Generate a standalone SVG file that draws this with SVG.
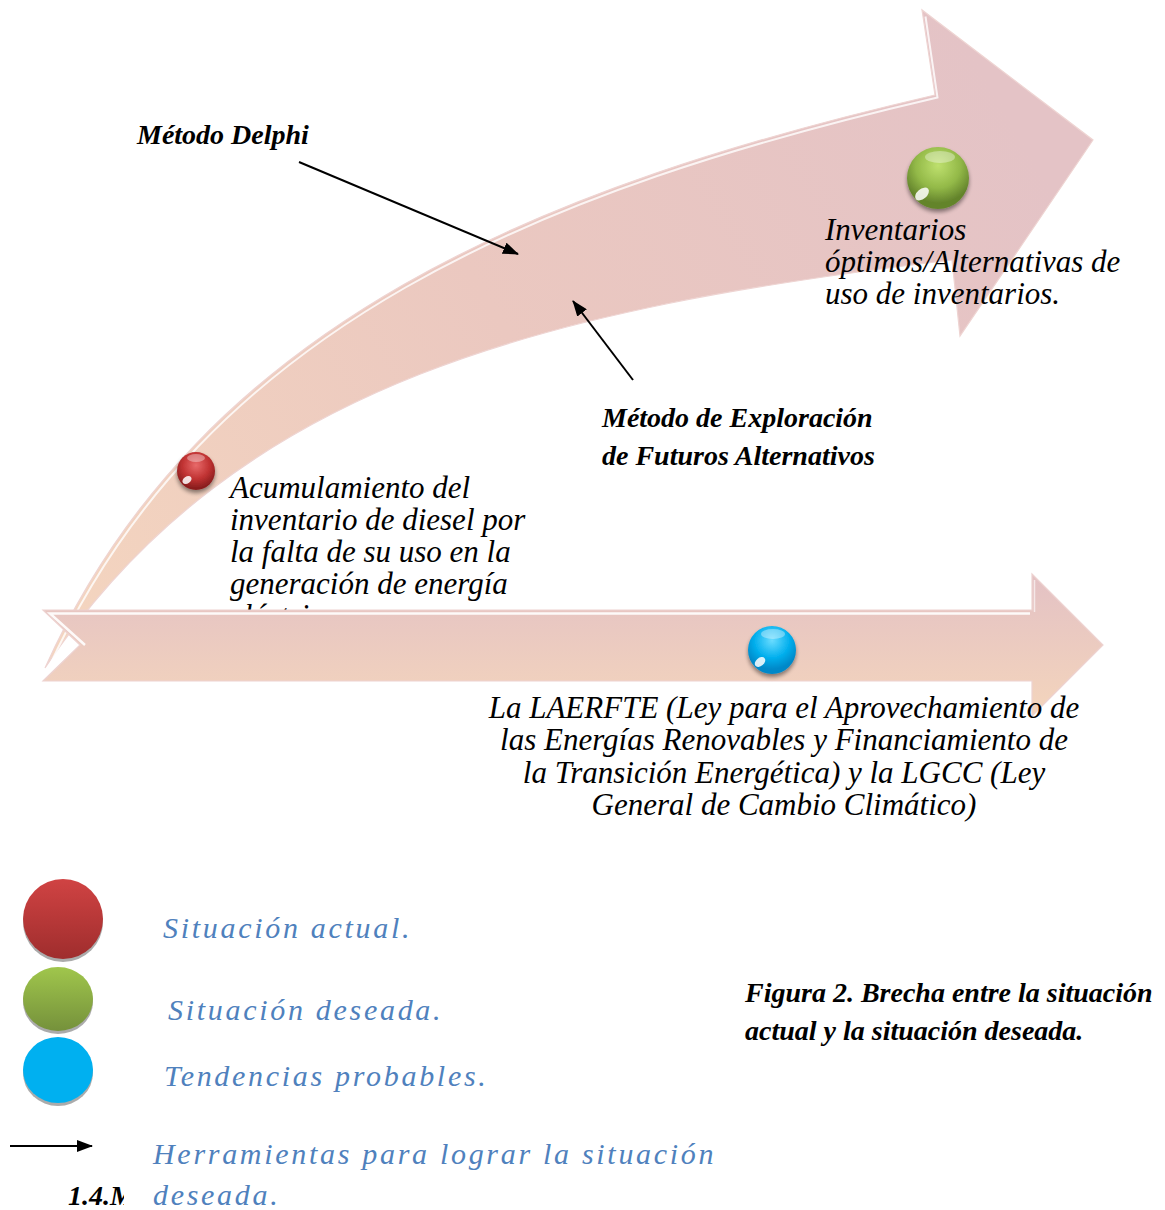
<svg xmlns="http://www.w3.org/2000/svg" width="1165" height="1210" viewBox="0 0 1165 1210">
<style>
.tx{font-family:"Liberation Serif","Times New Roman",serif;font-style:italic;fill:#000;font-size:31px}
.bd{font-family:"Liberation Serif","Times New Roman",serif;font-style:italic;font-weight:bold;fill:#000;font-size:28px}
.lg{font-family:"Liberation Serif","Times New Roman",serif;font-style:italic;fill:#4F81BD;font-size:30px;letter-spacing:2.7px}
.conn{stroke:#000;stroke-width:2;fill:none;marker-end:url(#ah)}
</style>
<defs>
<marker id="ah" viewBox="0 0 16 12" refX="15" refY="6" markerWidth="16" markerHeight="12" markerUnits="userSpaceOnUse" orient="auto">
<path d="M0,0 L16,6 L0,12 Z" fill="#000"/>
</marker>
<linearGradient id="gCurve" gradientUnits="userSpaceOnUse" x1="60" y1="650" x2="1000" y2="100">
<stop offset="0" stop-color="#F4D5BF"/>
<stop offset="0.5" stop-color="#EBC8C0"/>
<stop offset="1" stop-color="#E4C3C6"/>
</linearGradient>
<linearGradient id="gStraight" gradientUnits="userSpaceOnUse" x1="0" y1="580" x2="0" y2="716">
<stop offset="0" stop-color="#E4C2C4"/>
<stop offset="1" stop-color="#F4D5BC"/>
</linearGradient>
<radialGradient id="gRed" cx="0.5" cy="0.35" r="0.6">
<stop offset="0" stop-color="#E86A6A"/>
<stop offset="0.6" stop-color="#C03232"/>
<stop offset="1" stop-color="#8A1E1E"/>
</radialGradient>
<radialGradient id="gGreen" cx="0.5" cy="0.3" r="0.6">
<stop offset="0" stop-color="#BEE06E"/>
<stop offset="0.6" stop-color="#93B948"/>
<stop offset="1" stop-color="#64842C"/>
</radialGradient>
<radialGradient id="gBlue" cx="0.5" cy="0.3" r="0.6">
<stop offset="0" stop-color="#6ADCFF"/>
<stop offset="0.6" stop-color="#04B0EE"/>
<stop offset="1" stop-color="#0088C8"/>
</radialGradient>
<linearGradient id="lRed" x1="0" y1="0" x2="0" y2="1">
<stop offset="0" stop-color="#D04343"/>
<stop offset="1" stop-color="#9F2D2D"/>
</linearGradient>
<linearGradient id="lGreen" x1="0" y1="0" x2="0" y2="1">
<stop offset="0" stop-color="#A0C64C"/>
<stop offset="1" stop-color="#75913B"/>
</linearGradient>
<filter id="sh" x="-50%" y="-50%" width="200%" height="200%">
<feGaussianBlur in="SourceAlpha" stdDeviation="2"/>
<feOffset dx="0" dy="3"/>
<feComponentTransfer><feFuncA type="linear" slope="0.45"/></feComponentTransfer>
<feMerge><feMergeNode/><feMergeNode in="SourceGraphic"/></feMerge>
</filter>
</defs>
<rect width="1165" height="1210" fill="#fff"/>

<g id="curved-arrow">
<path d="M45,668 C201,320 548,185 935,95 L922,10 L1093,140 L960,336 L952,260 C552,308 237,380 45,668 Z" fill="url(#gCurve)" stroke="#EED4D2" stroke-width="1.2"/>
<path d="M45,668 C201,320 548,185 935,95 L923,14" transform="translate(2.5,2.5)" fill="none" stroke="#fff" stroke-width="2" opacity="0.8"/>
</g>

<g id="text-current">
<text class="tx" x="230"><tspan x="230" y="498">Acumulamiento del</tspan><tspan x="230" y="530">inventario de diesel por</tspan><tspan x="230" y="562">la falta de su uso en la</tspan><tspan x="230" y="594">generación de energía</tspan><tspan x="230" y="626">eléctrica.</tspan></text>
</g>

<g id="straight-arrow">
<path d="M43,610 L1032,610 L1032,574 L1103,645 L1032,716 L1032,681 L43,681 L80,645 Z" fill="url(#gStraight)" stroke="#EDD2D0" stroke-width="1.2"/>
<polyline points="1030,613.5 50,613.5 85,645" fill="none" stroke="#fff" stroke-width="2.5" opacity="0.9"/>
<polyline points="1034.5,612 1034.5,580" fill="none" stroke="#fff" stroke-width="1.5" opacity="0.6"/>
</g>

<g id="ball-red" filter="url(#sh)">
<circle cx="196" cy="471" r="19" fill="url(#gRed)"/>
<ellipse cx="187" cy="480" rx="5" ry="3.5" fill="#fff" opacity="0.85" transform="rotate(-35 187 480)"/>
<ellipse cx="196" cy="458" rx="9" ry="4" fill="#fff" opacity="0.35"/>
</g>

<g id="ball-green" filter="url(#sh)">
<circle cx="938" cy="178" r="31" fill="url(#gGreen)"/>
<ellipse cx="922" cy="194" rx="8" ry="5" fill="#fff" opacity="0.85" transform="rotate(-40 922 194)"/>
<ellipse cx="940" cy="157" rx="15" ry="6" fill="#fff" opacity="0.35"/>
</g>

<g id="ball-blue" filter="url(#sh)">
<circle cx="772" cy="650" r="24" fill="url(#gBlue)"/>
<ellipse cx="760" cy="662" rx="6" ry="4" fill="#fff" opacity="0.85" transform="rotate(-40 760 662)"/>
<ellipse cx="773" cy="634" rx="12" ry="5" fill="#fff" opacity="0.35"/>
</g>

<g id="text-desired">
<text class="tx"><tspan x="825" y="240">Inventarios</tspan><tspan x="825" y="272">óptimos/Alternativas de</tspan><tspan x="825" y="304">uso de inventarios.</tspan></text>
</g>

<g id="text-trends">
<text class="tx" text-anchor="middle"><tspan x="784" y="718">La LAERFTE (Ley para el Aprovechamiento de</tspan><tspan x="784" y="750">las Energías Renovables y Financiamiento de</tspan><tspan x="784" y="783">la Transición Energética) y la LGCC (Ley</tspan><tspan x="784" y="815">General de Cambio Climático)</tspan></text>
</g>

<g id="label-delphi">
<text class="bd" x="137" y="144">Método Delphi</text>
</g>

<g id="label-exploracion">
<text class="bd"><tspan x="602" y="427">Método de Exploración</tspan><tspan x="602" y="465">de Futuros Alternativos</tspan></text>
</g>

<g id="connectors">
<line class="conn" x1="299" y1="162" x2="518" y2="254"/>
<line class="conn" x1="633" y1="380" x2="573" y2="301"/>
</g>

<g id="legend">
<ellipse cx="63" cy="922" rx="40" ry="40" fill="#888" opacity="0.7"/>
<ellipse cx="63" cy="919" rx="40" ry="40" fill="url(#lRed)"/>
<ellipse cx="58" cy="1002" rx="35" ry="32" fill="#888" opacity="0.7"/>
<ellipse cx="58" cy="999" rx="35" ry="32" fill="url(#lGreen)"/>
<ellipse cx="58" cy="1073" rx="35" ry="33" fill="#888" opacity="0.7"/>
<ellipse cx="58" cy="1070" rx="35" ry="33" fill="#00B0F0"/>
<line x1="10" y1="1146" x2="92" y2="1146" stroke="#000" stroke-width="1.8" marker-end="url(#ah)"/>
<text class="lg" x="163" y="938">Situación actual.</text>
<text class="lg" x="168" y="1020">Situación deseada.</text>
<text class="lg" x="164" y="1086">Tendencias probables.</text>
<text class="lg"><tspan x="153" y="1164">Herramientas para lograr la situación</tspan><tspan x="153" y="1205">deseada.</tspan></text>
</g>

<g id="caption">
<text class="bd"><tspan x="745" y="1002">Figura 2. Brecha entre la situación</tspan><tspan x="745" y="1040">actual y la situación deseada.</tspan></text>
</g>

<g id="heading-fragment">
<text class="bd" x="68" y="1205">1.4.M</text>
<rect x="124" y="1180" width="27" height="30" fill="#fff"/>
</g>
</svg>
